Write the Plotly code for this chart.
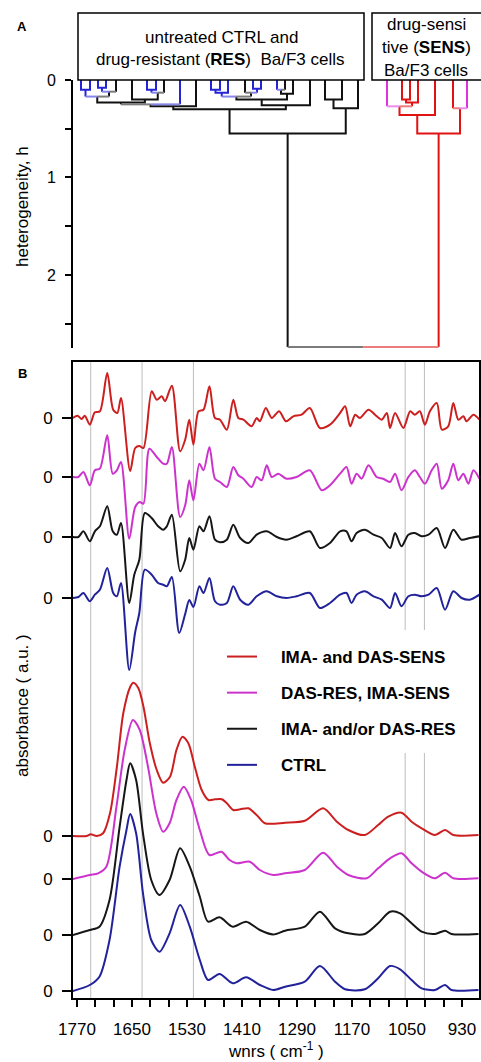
import plotly.graph_objects as go

FIG_W, FIG_H = 481, 1062
FONT = "Arial, 'Liberation Sans', sans-serif"


def pxx(x):
    return x / FIG_W


def pyy(y):
    return 1 - y / FIG_H


# ---------------- Panel A: dendrogram data ----------------
leaf_pos = [81, 90, 98, 106, 116, 132, 147, 156, 164, 180, 196, 211, 220, 228, 245, 253,
            261, 277, 285, 293, 310, 325, 342, 358, 387, 402, 410, 418, 435, 453, 467]
leaf_group = ["CTRL", "CTRL", "CTRL", "CTRL", "RES", "RES", "CTRL", "CTRL", "RES", "CTRL",
              "RES", "CTRL", "CTRL", "CTRL", "RES", "CTRL", "CTRL", "CTRL", "RES", "RES",
              "RES", "RES", "RES", "RES", "MIX", "SENS", "SENS", "SENS", "SENS", "SENS", "MIX"]
merge_a = [0, 2, 32, 31, 6, 35, 5, 34, 38, 39, 11, 41, 15, 14, 42, 17, 46, 45, 48, 40,
           21, 51, 50, 25, 54, 24, 56, 29, 57, 53]
merge_b = [1, 3, 4, 33, 7, 8, 36, 37, 9, 10, 12, 13, 16, 43, 44, 18, 19, 47, 20, 49,
           22, 23, 52, 26, 27, 55, 28, 30, 58, 59]
merge_h = [0.10, 0.08, 0.12, 0.17, 0.10, 0.13, 0.20, 0.23, 0.25, 0.27, 0.10, 0.13, 0.09,
           0.13, 0.17, 0.10, 0.14, 0.20, 0.26, 0.30, 0.20, 0.29, 0.55, 0.20, 0.23, 0.27,
           0.36, 0.29, 0.55, 2.74]
merge_group = ["CTRL", "CTRL", "RES", "RES", "CTRL", "RES", "RES", "RES", "RES", "RES",
               "CTRL", "CTRL", "CTRL", "RES", "RES", "RES", "RES", "RES", "RES", "RES",
               "RES", "RES", "RES", "SENS", "SENS", "SENS", "SENS", "SENS", "SENS", "RES"]
h_tick_vals = [0, 1, 2]
h_tick_text = ["0", "1", "2"]

# ---------------- Panel B: spectra data ----------------
series_names = ["IMA- and DAS-SENS", "DAS-RES, IMA-SENS", "IMA- and/or DAS-RES", "CTRL"]
deriv_offset = [580, 521, 461, 400]
abs_offset = [162, 119, 63, 7]

red_d_wn = [1779, 1769, 1760, 1753, 1742, 1731, 1720, 1704, 1691, 1682, 1674, 1654, 1643, 1634,
            1625, 1607, 1596, 1585, 1578, 1563, 1545, 1534, 1525, 1516, 1505, 1494, 1481, 1469,
            1458, 1443, 1429, 1418, 1407, 1389, 1378, 1371, 1358, 1345, 1329, 1314, 1298, 1280,
            1262, 1240, 1218, 1196, 1185, 1174, 1163, 1153, 1134, 1116, 1105, 1094, 1087, 1076,
            1058, 1043, 1033, 1022, 1011, 1000, 985, 974, 960, 949, 938, 927, 920, 905, 892]
red_d = [0, 2.3, -1, 2.3, -6.7, 5.7, 6.7, 45, 8.3, 5, 20, -53, -30, -28, -30, 26.7, 18.3, 21.7,
         16.7, 32.3, -33.3, -21.7, -1.7, -26.7, 6.7, 8.3, 31.7, 0, -1.7, -11.7, 18.3, 0, -1.7,
         -8.3, 0, -3.3, 10, 0, 6.7, -3.3, 1.7, 3.3, 10, -10, -6.7, 5, 11.7, -8.3, 3.3, 0, 8.3,
         1.7, -1.7, 5, -10, 5, -10, 6.7, 3.3, 6.7, -6.7, 6.7, 15, -11.7, -8.3, 15, -1.7, 1.7,
         -3.3, 3.3, -1.7]

mag_d_wn = [1779, 1767, 1756, 1742, 1731, 1720, 1704, 1692, 1683, 1674, 1656, 1643, 1633, 1625,
            1612, 1596, 1582, 1574, 1563, 1545, 1534, 1525, 1516, 1503, 1494, 1481, 1469, 1458,
            1443, 1429, 1418, 1407, 1389, 1378, 1367, 1356, 1345, 1331, 1313, 1291, 1262, 1236,
            1218, 1196, 1182, 1171, 1160, 1149, 1134, 1116, 1102, 1087, 1076, 1062, 1047, 1033,
            1022, 1011, 996, 985, 974, 960, 949, 938, 927, 916, 905, 892]
mag_d = [0, 0, 5, -8.3, 6.7, 8.3, 41.7, 3.3, 6.7, 15, -61.7, -30, -25, -26.7, 28.3, 20, 13.3,
         13.3, 30, -40, -28.3, -3.3, -23.3, 13.3, 6.7, 30, -1.7, -5, -10, 10, 1.7, -1.7, -10, 0,
         -3.3, 11.7, 0, 3.3, -1.7, 0, 6.7, -13.3, -8.3, 3.3, 10, -6.7, 3.3, -1.7, 11.7, 0, -1.7,
         -5, 3.3, -13.3, 0, 6.7, 0, -6.7, 6.7, 13.3, -11.7, -3.3, 13.3, -3.3, 3.3, -6.7, 6.7, -1.7]

blk_d_wn = [1779, 1767, 1756, 1742, 1731, 1720, 1704, 1692, 1683, 1674, 1656, 1645, 1634, 1622,
            1607, 1593, 1582, 1574, 1563, 1545, 1534, 1525, 1516, 1503, 1494, 1481, 1469, 1458,
            1443, 1429, 1414, 1396, 1378, 1356, 1334, 1313, 1291, 1262, 1240, 1218, 1196, 1182,
            1171, 1160, 1142, 1123, 1105, 1087, 1076, 1062, 1047, 1033, 1018, 1003, 985, 967,
            949, 931, 913, 892]
blk_d = [0, 0, 5.7, -4.3, 5.7, 10.7, 30.7, 5.7, 2.3, 14, -66, -37.7, -22.7, 24, 19, 10.7, 7.3,
         10.7, 22.3, -34.3, -22.7, -1, -12.7, 10.7, 5.7, 20.7, -2.7, -5.3, -2.7, 12.3, -1, -6,
         2.3, 5.7, 0, -2.7, 0.7, 5.7, -11, -6, 5.7, 5.7, -4.3, 4, 7.3, 2.3, -1, -11, 4, -9.3,
         2.3, 4, 0.7, 2.3, 9, -11, 7.3, -2.7, -1, 0.7]

blu_d_wn = [1779, 1767, 1756, 1742, 1731, 1720, 1704, 1691, 1683, 1674, 1656, 1643, 1634, 1622,
            1607, 1593, 1582, 1574, 1563, 1547, 1534, 1525, 1516, 1503, 1494, 1481, 1469, 1458,
            1443, 1429, 1414, 1396, 1378, 1356, 1334, 1313, 1291, 1262, 1240, 1218, 1196, 1182,
            1171, 1160, 1142, 1123, 1105, 1087, 1076, 1062, 1047, 1033, 1018, 1003, 985, 967,
            949, 931, 913, 892]
blu_d = [0, 1, 5, -3.3, 3.3, 8.3, 30, 5, 1.7, 15, -72, -34, -15, 28.3, 23.3, 15, 13.3, 11.7, 21,
         -35, -16, -2, -9, 11.7, 5, 20, -3.3, -6.7, -5, 11.7, -1.7, -6.7, 1.7, 6.7, 1.7, 0, 1.7,
         5, -10, -5, 3.3, 5, -5, 3.3, 6.7, 1.7, -1.7, -10, 5, -8.3, 1.7, 3.3, 1.7, 3.3, 10,
         -11.7, 6.7, 0, -1.7, 3.3]

red_a_wn = [1779, 1749, 1740, 1727, 1713, 1698, 1683, 1669, 1654, 1647, 1636, 1625, 1611, 1596,
            1582, 1567, 1553, 1540, 1527, 1513, 1498, 1483, 1469, 1454, 1443, 1429, 1414, 1396,
            1378, 1360, 1316, 1273, 1233, 1203, 1178, 1142, 1113, 1091, 1062, 1040, 1018, 989,
            967, 949, 894]
red_a = [0, 0, 1.7, 0, 2.7, 22.7, 69, 122.7, 149, 153.3, 147.7, 129.3, 92.7, 66, 53.3, 59.3,
         86, 99.3, 92.7, 69.3, 46, 36, 36.7, 36.7, 32.7, 26, 26.7, 27.7, 21, 12.7, 13.3, 15.3,
         27.7, 14.3, 6, 1, 11, 19.3, 23.3, 14.3, 7.7, 1, 6, 1, 1]

mag_a_wn = [1779, 1742, 1724, 1706, 1684, 1666, 1648, 1633, 1615, 1597, 1582, 1568, 1553, 1537,
            1521, 1502, 1481, 1455, 1437, 1422, 1393, 1371, 1342, 1316, 1273, 1233, 1203, 1178,
            1138, 1113, 1087, 1062, 1040, 1018, 989, 967, 949, 894]
mag_a = [0, 4, 5.7, 12.3, 72, 129, 159, 149, 112, 65.7, 47.3, 55.7, 79, 92.3, 79, 49, 24, 27.3,
         19, 15.7, 17.3, 9, 4, 5.7, 9, 26.3, 12.3, 4, 0.7, 10.7, 20.7, 25.7, 15.7, 7.3, 0.7, 6.3,
         0.7, 0.7]

blk_a_wn = [1779, 1742, 1721, 1699, 1677, 1662, 1654, 1641, 1626, 1608, 1590, 1568, 1545, 1524,
            1502, 1484, 1459, 1430, 1401, 1371, 1342, 1316, 1273, 1240, 1207, 1178, 1142, 1113,
            1087, 1065, 1040, 1018, 989, 967, 953, 894]
blk_a = [0, 5, 8.3, 35, 108, 155, 171.7, 155, 101.7, 55, 40, 55, 86.7, 68.3, 38.3, 13.3, 17.7,
         8.3, 13.3, 5, 0.5, 4.3, 8.3, 23.3, 6.7, 1.7, 1, 11.7, 23.3, 21.7, 11.7, 3.3, 1, 4.3, 1, 1]

blu_a_wn = [1779, 1742, 1721, 1699, 1677, 1662, 1654, 1641, 1626, 1608, 1590, 1568, 1545, 1524,
            1502, 1484, 1459, 1430, 1401, 1371, 1342, 1316, 1273, 1240, 1207, 1185, 1142, 1113,
            1087, 1065, 1040, 1018, 989, 967, 953, 894]
blu_a = [0, 6, 14.3, 51, 124.3, 161, 177, 157.7, 97.7, 51, 39.3, 57.7, 86, 64.3, 31, 11, 17, 7.7,
         13.7, 6, 1, 4.3, 9.3, 25, 9.3, 1.7, 1.7, 12.7, 25, 21.7, 11, 2.7, 1, 6, 1, 1]

x_tick_vals = [1770, 1650, 1530, 1410, 1290, 1170, 1050, 930]
x_tick_text = ["1770", "1650", "1530", "1410", "1290", "1170", "1050", "930"]
marker_lines_full = [1740, 1628, 1516]
marker_lines_split = [1054, 1012]

# ---------------- styles ----------------
dendro_color = {"CTRL": "#2424d6", "RES": "#111111", "SENS": "#e01212", "MIX": "#e030e0"}
spec_color = ["#cc1f1f", "#cc33cc", "#161616", "#22229a"]
LEGEND_PAD = "\u00a0" * 4


def lighten(hexc, f=0.45):
    r, g, b = int(hexc[1:3], 16), int(hexc[3:5], 16), int(hexc[5:7], 16)
    r, g, b = [int(v + (255 - v) * f) for v in (r, g, b)]
    return "#%02x%02x%02x" % (r, g, b)


fig = go.Figure()

# ---- dendrogram ----
node_x = list(leaf_pos)
node_h = [0.0] * len(leaf_pos)
node_c = [dendro_color[g] for g in leaf_group]
segs = {}


def add_path(color, xs, ys):
    sx, sy = segs.setdefault(color, ([], []))
    sx.extend(xs + [None])
    sy.extend(ys + [None])


for a, b, h, g in zip(merge_a, merge_b, merge_h, merge_group):
    xa, xb = node_x[a], node_x[b]
    xm = (xa + xb) / 2
    ca, cb = node_c[a], node_c[b]
    if ca == cb:
        add_path(ca, [xa, xa, xb, xb], [node_h[a], h, h, node_h[b]])
    else:
        add_path(ca, [xa, xa], [node_h[a], h])
        add_path(cb, [xb, xb], [node_h[b], h])
        add_path(lighten(ca), [xa, xm], [h, h])
        add_path(lighten(cb), [xm, xb], [h, h])
    node_x.append(xm)
    node_h.append(h)
    node_c.append(dendro_color[g])

for color, (sx, sy) in segs.items():
    fig.add_trace(go.Scatter(x=sx, y=sy, mode="lines", line=dict(color=color, width=2),
                             showlegend=False, hoverinfo="skip", xaxis="x", yaxis="y"))

# ---- spectra ----
deriv_wn = [red_d_wn, mag_d_wn, blk_d_wn, blu_d_wn]
deriv_val = [red_d, mag_d, blk_d, blu_d]
abs_wn = [red_a_wn, mag_a_wn, blk_a_wn, blu_a_wn]
abs_val = [red_a, mag_a, blk_a, blu_a]

for i in range(4):
    fig.add_trace(go.Scatter(
        x=deriv_wn[i], y=[deriv_offset[i] + v for v in deriv_val[i]], mode="lines",
        line=dict(color=spec_color[i], width=2, shape="spline", smoothing=0.8),
        showlegend=False, xaxis="x2", yaxis="y2", name=series_names[i]))

for i in range(4):
    fig.add_trace(go.Scatter(
        x=abs_wn[i], y=[abs_offset[i] + v for v in abs_val[i]], mode="lines",
        line=dict(color=spec_color[i], width=2, shape="spline", smoothing=0.8),
        name=LEGEND_PAD + series_names[i], legendgroup=series_names[i], showlegend=True,
        xaxis="x2", yaxis="y2"))

# ---- shapes ----
shapes = []
for wn in marker_lines_full:
    shapes.append(dict(type="line", xref="x2", yref="y2", x0=wn, x1=wn, y0=0, y1=636,
                       line=dict(color="#bdbdbd", width=1), layer="below"))
for wn in marker_lines_split:
    for y0, y1 in ((0, 245), (368, 636)):
        shapes.append(dict(type="line", xref="x2", yref="y2", x0=wn, x1=wn, y0=y0, y1=y1,
                           line=dict(color="#bdbdbd", width=1), layer="below"))
# label boxes above the dendrogram
shapes.append(dict(type="rect", xref="paper", yref="paper", x0=pxx(78), x1=pxx(364),
                   y0=pyy(80), y1=pyy(13), line=dict(color="black", width=1.5)))
shapes.append(dict(type="rect", xref="paper", yref="paper", x0=pxx(372), x1=pxx(500),
                   y0=pyy(80), y1=pyy(13), line=dict(color="black", width=1.5)))


def ann(text, x, y, size=17, **kw):
    d = dict(text=text, x=pxx(x), y=pyy(y), xref="paper", yref="paper", showarrow=False,
             font=dict(size=size, family=FONT, color="black"), xanchor="center",
             yanchor="middle")
    d.update(kw)
    return d


annotations = [
    ann("<b>A</b>", 22, 26, size=13),
    ann("<b>B</b>", 22, 373, size=13),
    ann("untreated CTRL and", 221, 37),
    ann("drug-resistant (<b>RES</b>)\u00a0\u00a0Ba/F3 cells", 220, 59),
    ann("drug-sensi", 426, 24),
    ann("tive (<b>SENS</b>)", 426, 47),
    ann("Ba/F3 cells", 426, 70),
    ann("heterogeneity, h", 22, 207, textangle=-90),
    ann("absorbance ( a.u. )", 22, 706, textangle=-90),
    ann("wnrs ( cm<sup>-1</sup> )", 276, 1050),
]

zero_levels = deriv_offset + abs_offset

fig.update_layout(
    width=FIG_W, height=FIG_H,
    margin=dict(l=0, r=0, t=0, b=0, autoexpand=False),
    paper_bgcolor="white", plot_bgcolor="white",
    font=dict(family=FONT, color="black", size=16),
    showlegend=True,
    legend=dict(x=pxx(222), y=pyy(639), xanchor="left", yanchor="top",
                font=dict(size=17, family=FONT, color="black", weight="bold"),
                bgcolor="rgba(0,0,0,0)", tracegroupgap=11, traceorder="grouped",
                itemwidth=30),
    xaxis=dict(domain=[pxx(73), 1], range=[73, 481], visible=False, fixedrange=True,
               anchor="y", automargin=False),
    yaxis=dict(domain=[pyy(348), pyy(80)], range=[2.75, 0], anchor="x", automargin=False,
               showline=True, linecolor="black", linewidth=2, showgrid=False, zeroline=False,
               ticks="outside", ticklen=6, tickwidth=2, tickcolor="black",
               tickvals=h_tick_vals, ticktext=h_tick_text, tickfont=dict(size=16),
               ticklabelstandoff=6,
               minor=dict(dtick=0.5, tick0=0, ticks="outside", ticklen=6, tickwidth=2,
                          tickcolor="black", showgrid=False)),
    xaxis2=dict(domain=[pxx(73), pxx(479)], range=[1778.7, 892.9], anchor="y2",
                automargin=False,
                showline=True, mirror=True, linecolor="black", linewidth=2,
                showgrid=False, zeroline=False, ticks="outside", ticklen=7, tickwidth=2,
                tickcolor="black", tickvals=x_tick_vals, ticktext=x_tick_text,
                tickfont=dict(size=17), ticklabelstandoff=8,
                minor=dict(tick0=1770, dtick=40, ticks="outside", ticklen=7, tickwidth=2,
                           tickcolor="black", showgrid=False)),
    yaxis2=dict(domain=[pyy(998), pyy(362)], range=[0, 636], anchor="x2", automargin=False,
                showline=True, mirror=True, linecolor="black", linewidth=2,
                showgrid=False, zeroline=False, ticks="outside", ticklen=9, tickwidth=2,
                tickcolor="black", tickvals=zero_levels, ticktext=["0"] * len(zero_levels),
                tickfont=dict(size=17), ticklabelstandoff=6),
    shapes=shapes,
    annotations=annotations,
)

fig.write_html("out.html", config={"displayModeBar": False},
               post_script="document.body.style.margin='0';"
                           "document.body.style.overflow='hidden';")
